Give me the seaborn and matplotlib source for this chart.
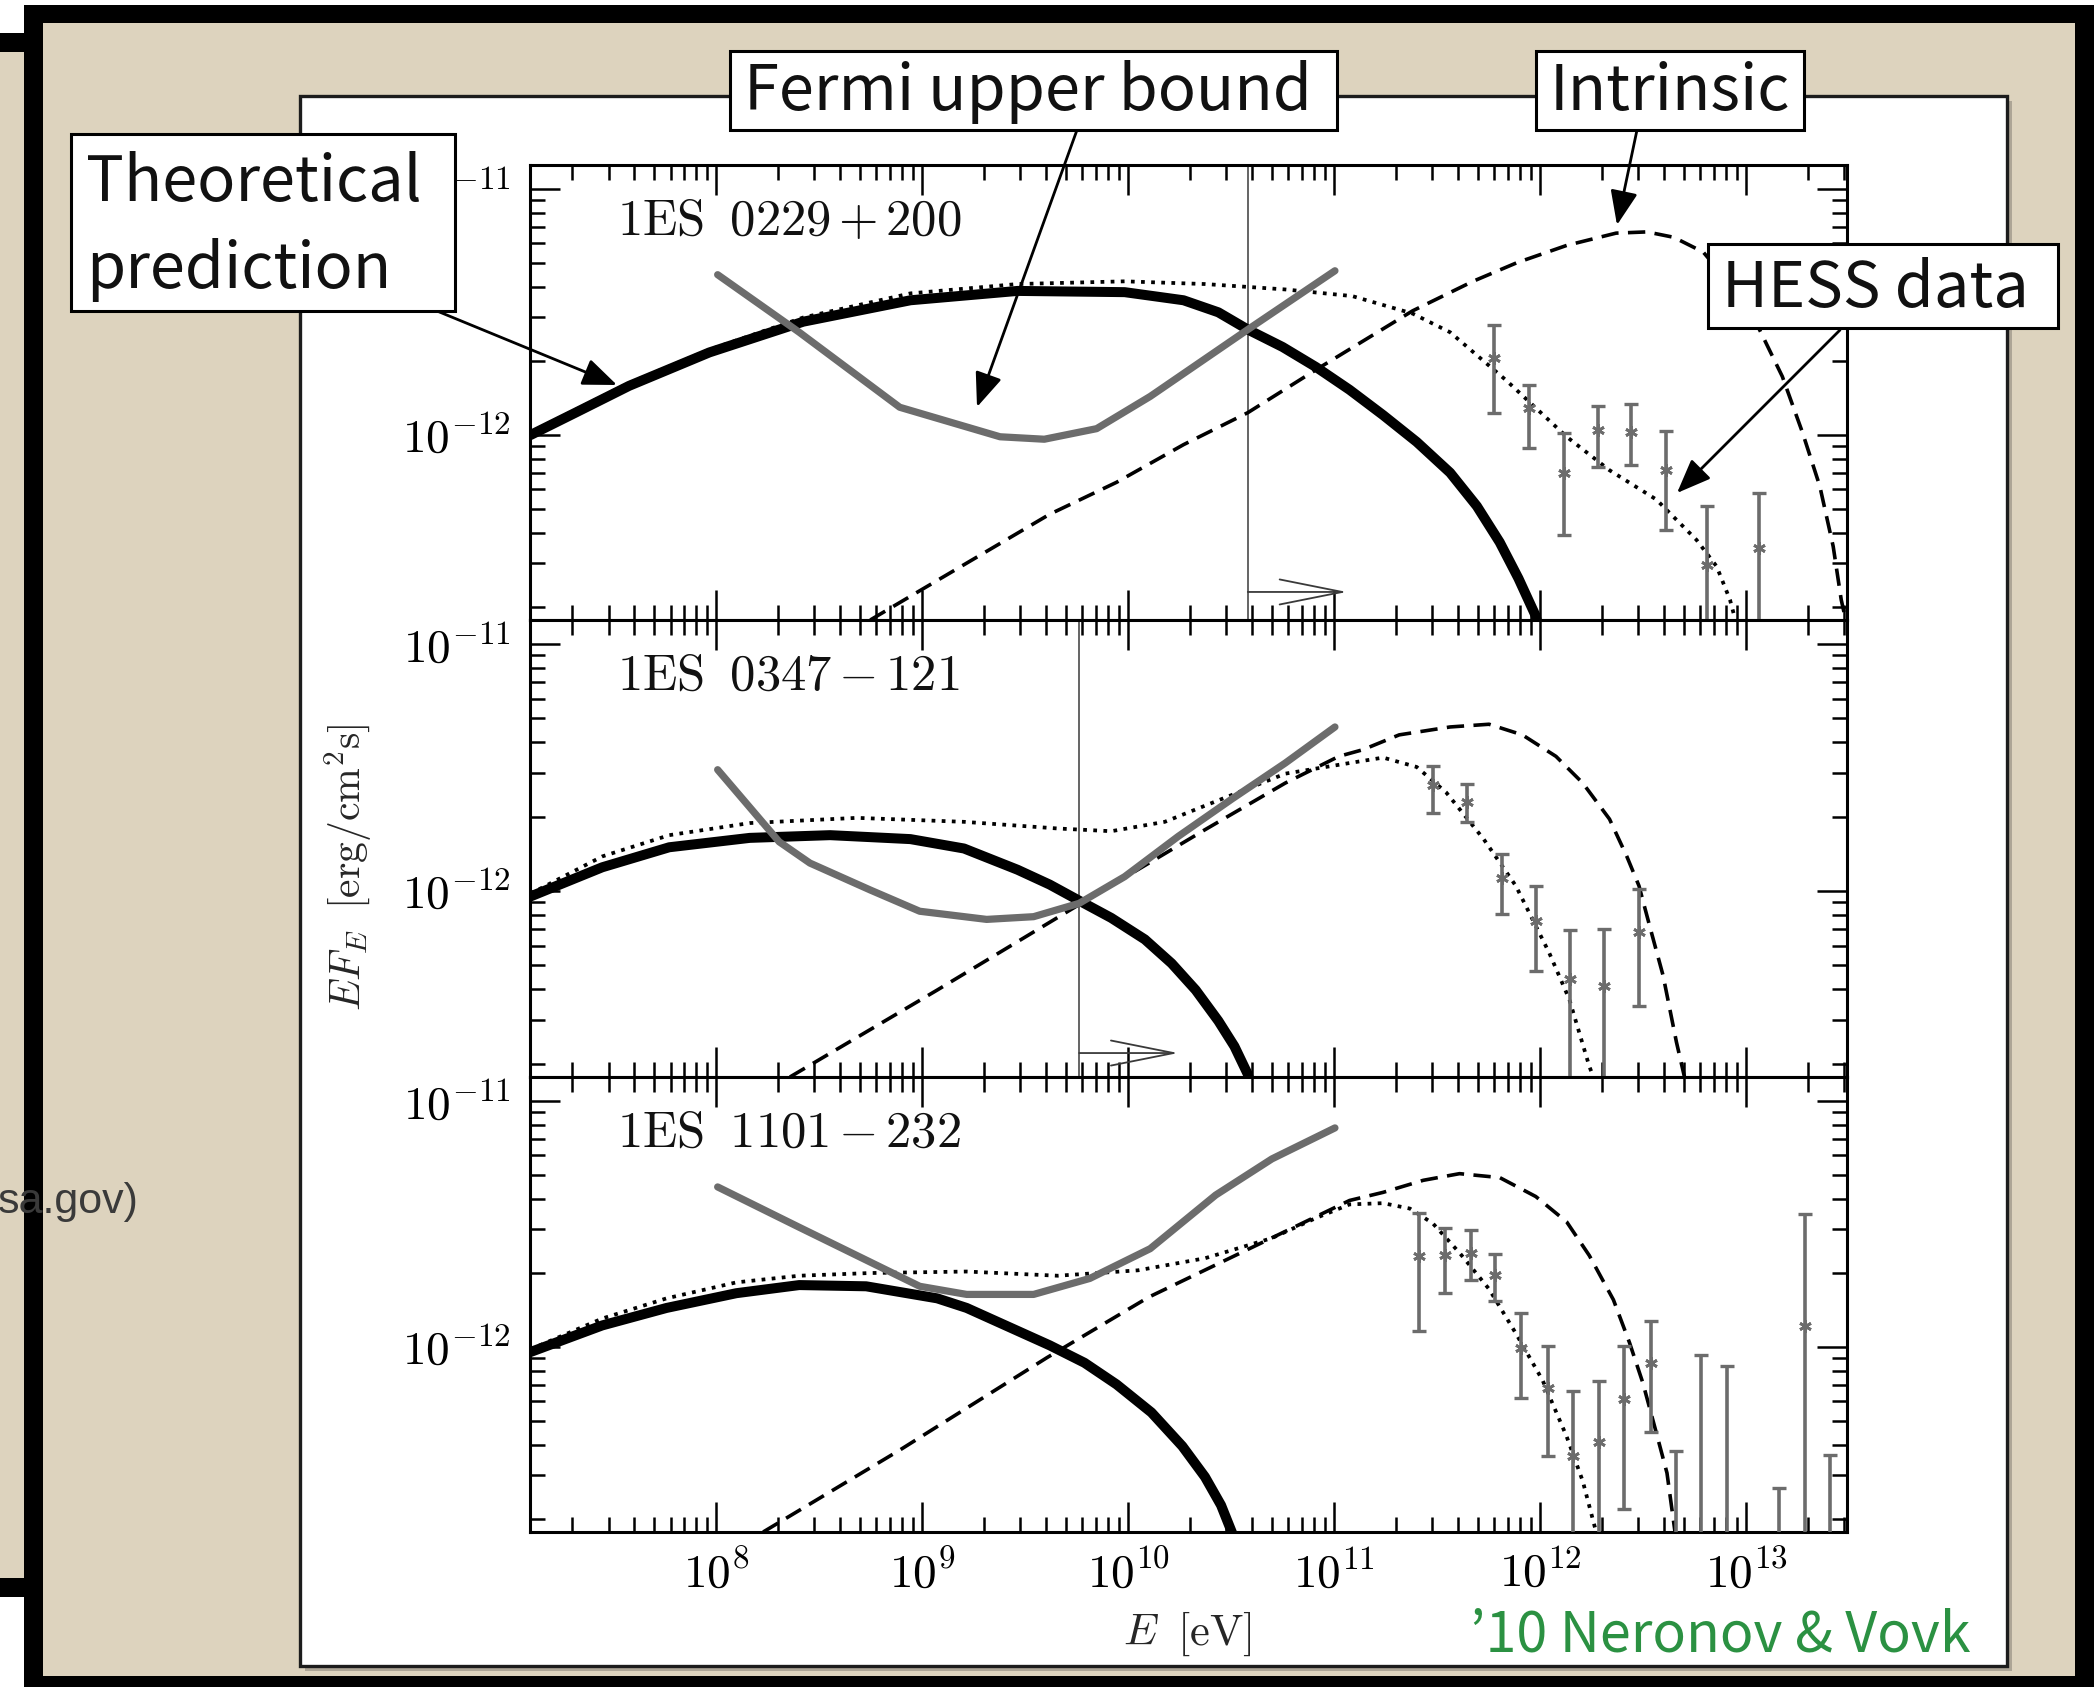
import numpy as np
import matplotlib
matplotlib.use("Agg")
import matplotlib.pyplot as plt
import seaborn as sns
from matplotlib.patches import Rectangle, FancyArrowPatch
from matplotlib.ticker import LogLocator, NullFormatter

sns.set_theme(style="ticks")
plt.rcParams["font.family"] = ["DejaVu Serif"]
plt.rcParams["mathtext.fontset"] = "cm"

# ---------------------------------------------------------------------------
# Spectra, stored as log10(E / eV) and log10(E F_E / erg cm^-2 s^-1)
# ---------------------------------------------------------------------------
# 1ES 0229+200
cascade1_logE = [7.096, 7.317, 7.577, 7.967, 8.423, 8.943, 9.463, 9.983, 10.269, 10.438, 10.581,
                 10.750, 10.913, 11.075, 11.238, 11.401, 11.563, 11.693, 11.804, 11.895, 11.979,
                 12.01]
cascade1_logF = [-12.002, -11.910, -11.801, -11.665, -11.540, -11.453, -11.415, -11.420, -11.453,
                 -11.502, -11.572, -11.643, -11.725, -11.817, -11.920, -12.029, -12.154, -12.290,
                 -12.437, -12.584, -12.737, -12.85]
total1_logE = [7.096, 7.577, 7.967, 8.423, 8.943, 9.463, 9.983, 10.373, 10.763, 11.088, 11.381,
               11.563, 11.836, 12.129, 12.337, 12.564, 12.759, 12.857, 12.922, 12.948]
total1_logF = [-11.991, -11.790, -11.654, -11.523, -11.425, -11.387, -11.376, -11.387, -11.409,
               -11.436, -11.507, -11.583, -11.779, -12.008, -12.144, -12.263, -12.427, -12.535,
               -12.671, -12.753]
intr1_logE = [8.748, 8.956, 9.619, 9.944, 10.269, 10.581, 10.913, 11.381, 11.674, 11.888, 12.129,
              12.369, 12.519, 12.649, 12.792, 12.922, 13.065, 13.176, 13.274, 13.358, 13.423,
              13.462, 13.494]
intr1_logF = [-12.753, -12.650, -12.323, -12.193, -12.040, -11.910, -11.735, -11.496, -11.376,
              -11.300, -11.230, -11.180, -11.175, -11.197, -11.257, -11.387, -11.572, -11.763,
              -11.991, -12.209, -12.454, -12.671, -12.791]
fermi1_logE = [8.007, 8.403, 8.891, 9.378, 9.593, 9.847, 10.107, 10.581, 11.004]
fermi1_logF = [-11.349, -11.583, -11.888, -12.008, -12.018, -11.975, -11.844, -11.572, -11.333]
hess1_logE = [11.776, 11.945, 12.114, 12.281, 12.443, 12.613, 12.810, 13.062]
hess1_logF = [-11.689, -11.893, -12.157, -11.980, -11.987, -12.144, -12.529, -12.461]
hess1_hi = [-11.554, -11.798, -11.994, -11.883, -11.875, -11.984, -12.289, -12.238]
hess1_lo = [-11.913, -12.055, -12.407, -12.129, -12.123, -12.389, -14.0, -14.0]
emin1_logE = 10.581
emin1_arrow = (11.062, -12.639)

# 1ES 0347-121
cascade2_logE = [7.096, 7.447, 7.772, 8.163, 8.553, 8.943, 9.203, 9.463, 9.619, 9.762, 9.918,
                 10.081, 10.211, 10.328, 10.438, 10.516, 10.581, 10.60]
cascade2_logF = [-12.023, -11.904, -11.823, -11.785, -11.774, -11.790, -11.828, -11.914, -11.974,
                 -12.039, -12.109, -12.196, -12.293, -12.401, -12.526, -12.629, -12.742, -12.80]
total2_logE = [7.096, 7.447, 7.772, 8.163, 8.683, 9.203, 9.658, 9.918, 10.178, 10.438, 10.763,
               11.075, 11.238, 11.401, 11.544, 11.726, 11.882, 12.044, 12.142, 12.239, 12.259]
total2_logF = [-12.012, -11.860, -11.774, -11.725, -11.704, -11.720, -11.747, -11.758, -11.720,
               -11.633, -11.525, -11.482, -11.460, -11.498, -11.601, -11.790, -11.979, -12.250,
               -12.439, -12.710, -12.753]
intr2_logE = [8.358, 9.073, 9.762, 10.373, 10.763, 11.023, 11.140, 11.316, 11.563, 11.752, 11.914,
              12.077, 12.207, 12.337, 12.421, 12.480, 12.532, 12.597, 12.662, 12.701, 12.72]
intr2_logF = [-12.753, -12.401, -12.055, -11.752, -11.563, -11.455, -11.428, -11.368, -11.336,
              -11.325, -11.368, -11.455, -11.563, -11.709, -11.860, -11.979, -12.142, -12.342,
              -12.612, -12.753, -12.85]
fermi2_logE = [8.007, 8.306, 8.455, 8.748, 8.988, 9.313, 9.541, 9.762, 9.983, 10.243, 10.503,
               10.763, 11.004]
fermi2_logF = [-11.509, -11.801, -11.887, -11.996, -12.082, -12.115, -12.104, -12.050, -11.942,
               -11.779, -11.628, -11.482, -11.336]
hess2_logE = [11.480, 11.645, 11.815, 11.982, 12.143, 12.308, 12.480]
hess2_logF = [-11.569, -11.640, -11.946, -12.121, -12.356, -12.383, -12.168]
hess2_hi = [-11.493, -11.566, -11.852, -11.979, -12.158, -12.152, -11.990]
hess2_lo = [-11.684, -11.721, -12.094, -12.323, -14.0, -14.0, -12.464]
emin2_logE = 9.762
emin2_arrow = (10.243, -12.656)

# 1ES 1101-232
cascade3_logE = [7.096, 7.447, 7.759, 8.098, 8.403, 8.728, 9.073, 9.216, 9.619, 9.788, 9.944,
                 10.113, 10.263, 10.373, 10.451, 10.503, 10.53]
cascade3_logF = [-12.022, -11.913, -11.842, -11.782, -11.749, -11.754, -11.803, -11.842, -11.994,
                 -12.065, -12.153, -12.267, -12.404, -12.529, -12.644, -12.753, -12.85]
total3_logE = [7.096, 7.447, 7.759, 8.098, 8.403, 8.748, 9.216, 9.658, 10.048, 10.373, 10.698,
               10.913, 11.075, 11.238, 11.368, 11.479, 11.609, 11.752, 11.882, 12.012, 12.129,
               12.207, 12.272]
total3_logF = [-12.011, -11.885, -11.803, -11.738, -11.711, -11.700, -11.694, -11.711, -11.689,
               -11.640, -11.558, -11.476, -11.421, -11.416, -11.438, -11.498, -11.618, -11.765,
               -11.945, -12.136, -12.365, -12.546, -12.753]
intr3_logE = [8.228, 8.891, 9.606, 10.100, 10.425, 10.750, 11.075, 11.238, 11.433, 11.609, 11.804,
              11.979, 12.129, 12.239, 12.356, 12.434, 12.499, 12.564, 12.616, 12.655, 12.67]
intr3_logF = [-12.753, -12.420, -12.044, -11.798, -11.667, -11.536, -11.405, -11.372, -11.323,
              -11.296, -11.312, -11.389, -11.492, -11.629, -11.809, -11.983, -12.147, -12.349,
              -12.513, -12.753, -12.85]
fermi3_logE = [8.007, 8.403, 8.988, 9.216, 9.541, 9.814, 10.107, 10.425, 10.698, 11.004]
fermi3_logF = [-11.350, -11.514, -11.754, -11.787, -11.787, -11.722, -11.601, -11.383, -11.236,
               -11.110]
hess3_logE = [11.410, 11.536, 11.666, 11.783, 11.909, 12.038, 12.160, 12.285, 12.406, 12.536, 13.284]
hess3_logF = [-11.630, -11.628, -11.617, -11.709, -12.004, -12.167, -12.445, -12.388, -12.214,
              -12.065, -11.916]
hess3_hi = [-11.454, -11.515, -11.525, -11.623, -11.864, -11.997, -12.181, -12.140, -11.997,
            -11.895, -11.461]
hess3_lo = [-11.936, -11.783, -11.730, -11.814, -12.207, -12.442, -14.0, -14.0, -12.660,
            -12.347, -14.0]
ul3_logE = [12.661, 12.783, 12.909, 13.159, 13.406]
ul3_top = [-12.422, -12.035, -12.078, -12.574, -12.439]

source_names = [r"$\mathrm{1ES\;\;0229\,{+}\,200}$", r"$\mathrm{1ES\;\;0347\,{-}\,121}$",
                r"$\mathrm{1ES\;\;1101\,{-}\,232}$"]

panels = [
    dict(cascade=(cascade1_logE, cascade1_logF), total=(total1_logE, total1_logF),
         intr=(intr1_logE, intr1_logF), fermi=(fermi1_logE, fermi1_logF),
         hess=(hess1_logE, hess1_logF, hess1_lo, hess1_hi), ul=None,
         emin=emin1_logE, arrow=emin1_arrow),
    dict(cascade=(cascade2_logE, cascade2_logF), total=(total2_logE, total2_logF),
         intr=(intr2_logE, intr2_logF), fermi=(fermi2_logE, fermi2_logF),
         hess=(hess2_logE, hess2_logF, hess2_lo, hess2_hi), ul=None,
         emin=emin2_logE, arrow=emin2_arrow),
    dict(cascade=(cascade3_logE, cascade3_logF), total=(total3_logE, total3_logF),
         intr=(intr3_logE, intr3_logF), fermi=(fermi3_logE, fermi3_logF),
         hess=(hess3_logE, hess3_logF, hess3_lo, hess3_hi), ul=(ul3_logE, ul3_top),
         emin=None, arrow=None),
]

XLIM = (10 ** 7.096, 10 ** 13.49)
YLIM = (10 ** -12.753, 10 ** -10.903)

# ---------------------------------------------------------------------------
W, H, DPI = 2100, 1687, 100
fig = plt.figure(figsize=(W / DPI, H / DPI), dpi=DPI)
fig.patch.set_facecolor("white")

BEIGE = "#ddd3be"
SANS = ["Noto Sans CJK JP", "DejaVu Sans"]


def fbox(x0, y0, x1, y1, **kw):
    r = Rectangle((x0 / W, 1 - y1 / H), (x1 - x0) / W, (y1 - y0) / H,
                  transform=fig.transFigure, **kw)
    fig.add_artist(r)
    return r


def ftext(x, y, s, **kw):
    return fig.text(x / W, 1 - y / H, s, **kw)


# slide backdrop
fbox(0, 52, 24, 1578, fc=BEIGE, lw=0, zorder=-30)
fbox(0, 33, 24, 52, fc="black", lw=0, zorder=-29)
fbox(0, 1578, 24, 1597, fc="black", lw=0, zorder=-29)
fbox(24, 5, 2094, 1687, fc="black", lw=0, zorder=-27)
fbox(43, 23, 2075, 1676, fc=BEIGE, lw=0, zorder=-26)
ftext(-2, 1213, "sa.gov)", fontsize=31, color="#3a3a3a", family=["Liberation Sans"],
      va="baseline", zorder=-25.5)
fbox(305, 101, 2012, 1671, fc="#8d877c", lw=0, alpha=0.6, zorder=-25)
fbox(300, 96, 2007, 1666, fc="white", ec="#1c1c1c", lw=2.4, zorder=-24)

# ---------------------------------------------------------------------------
AX_L, AX_R = 530, 1847
AX_Y = [(165, 620), (620, 1077), (1077, 1532)]

GRAY = "#6c6c6c"
for i, (p, (y0, y1)) in enumerate(zip(panels, AX_Y)):
    ax = fig.add_axes([AX_L / W, 1 - y1 / H, (AX_R - AX_L) / W, (y1 - y0) / H])
    ax.set_facecolor("white")
    ax.set_xscale("log")
    ax.set_yscale("log")

    def curve(data, **kw):
        x = 10 ** np.asarray(data[0])
        y = 10 ** np.asarray(data[1])
        sns.lineplot(x=x, y=y, ax=ax, sort=False, estimator=None, legend=False, **kw)

    curve(p["total"], color="black", lw=2.7, linestyle=(0, (1.0, 1.7)), zorder=2)
    curve(p["intr"], color="black", lw=2.6, linestyle=(0, (4.8, 2.6)), zorder=2)
    curve(p["cascade"], color="black", lw=7.2, solid_capstyle="butt",
          solid_joinstyle="round", zorder=3)
    curve(p["fermi"], color=GRAY, lw=5.2, solid_joinstyle="round", zorder=4)

    e, f, lo, hi = (np.asarray(a) for a in p["hess"])
    yc = 10 ** f
    ax.errorbar(10 ** e, yc, yerr=[yc - 10 ** lo, 10 ** hi - yc], fmt="none",
                ecolor=GRAY, elinewidth=2.6, capsize=5, capthick=2.4, zorder=5)
    ax.plot(10 ** e, yc, linestyle="none", marker=(6, 2, 0), markersize=9,
            markeredgewidth=2.0, color=GRAY, zorder=6)
    if p["ul"] is not None:
        ue, ut = (np.asarray(a) for a in p["ul"])
        base = np.full_like(ue, 1e-14)
        ax.errorbar(10 ** ue, base, yerr=[np.zeros_like(ue), 10 ** ut - base], fmt="none",
                    ecolor=GRAY, elinewidth=2.6, capsize=5, capthick=2.4, zorder=5)

    if p["emin"] is not None:
        ax.axvline(10 ** p["emin"], color="#4a4a4a", lw=1.2, zorder=1)
        ax.annotate("", xy=(10 ** p["arrow"][0], 10 ** p["arrow"][1]),
                    xytext=(10 ** p["emin"], 10 ** p["arrow"][1]),
                    arrowprops=dict(arrowstyle="->,head_length=1.1,head_width=0.22",
                                    mutation_scale=41, lw=1.3, color="#3a3a3a",
                                    shrinkA=0, shrinkB=0), zorder=1)

    ax.set_xlim(*XLIM)
    ax.set_ylim(*YLIM)
    ax.xaxis.set_major_locator(LogLocator(base=10, numticks=20))
    ax.xaxis.set_minor_locator(LogLocator(base=10, subs=np.arange(2, 10) * 1.0, numticks=20))
    ax.yaxis.set_major_locator(LogLocator(base=10, numticks=20))
    ax.yaxis.set_minor_locator(LogLocator(base=10, subs=np.arange(2, 10) * 1.0, numticks=20))
    ax.xaxis.set_minor_formatter(NullFormatter())
    ax.yaxis.set_minor_formatter(NullFormatter())
    ax.set_yticks([1e-12, 1e-11])
    ax.set_yticklabels([r"$10^{-12}$", r"$10^{-11}$"])
    if i == 2:
        ax.set_xticks([1e8, 1e9, 1e10, 1e11, 1e12, 1e13])
        ax.set_xticklabels([r"$10^{%d}$" % k for k in range(8, 14)])
    else:
        ax.tick_params(labelbottom=False)
    ax.set_xlim(*XLIM)
    ax.set_ylim(*YLIM)
    ax.tick_params(which="both", direction="in", top=True, right=True, width=1.8,
                   color="black", labelsize=34, labelcolor="black")
    ax.tick_params(which="major", length=21.6)
    ax.tick_params(which="minor", length=10.8)
    ax.tick_params(axis="y", pad=14)
    ax.tick_params(axis="x", pad=14)
    for s in ax.spines.values():
        s.set_linewidth(2.2)
        s.set_color("black")
    ax.set_xlabel("")
    ax.set_ylabel("")
    ax.text(0.066, 0.877, source_names[i], transform=ax.transAxes, fontsize=36.5,
            va="center", ha="left", color="#111111")

# axis titles
ftext(348, 867, r"$EF_E\;\;\mathrm{[erg/cm^2s]}$", rotation=90, ha="center", va="center",
      fontsize=30)
ftext(1187, 1634, r"$E\;\;\mathrm{[eV]}$", ha="center", va="center", fontsize=32)

# ---------------------------------------------------------------------------
# callout boxes
for (x0, y0, x1, y1) in [(71, 134, 455, 311), (730, 51, 1337, 130), (1536, 51, 1804, 130),
                         (1708, 244, 2058, 328)]:
    fbox(x0, y0, x1, y1, fc="white", ec="black", lw=2.2, zorder=5)

tkw = dict(fontsize=45.5, family=SANS, color="#111111", va="baseline", ha="left", zorder=6)
ftext(86, 201, "Theoretical", **tkw)
ftext(86, 288, "prediction", **tkw)
ftext(744, 110, "Fermi upper bound", **tkw)
ftext(1550, 110, "Intrinsic", **tkw)
ftext(1722, 307, "HESS data", **tkw)

for (xa, ya), (xb, yb) in [((437, 311), (617, 385)), ((1077, 130), (977, 407)),
                           ((1637, 130), (1617, 225)), ((1840, 330), (1677, 493))]:
    arr = FancyArrowPatch((xa / W, 1 - ya / H), (xb / W, 1 - yb / H),
                          transform=fig.transFigure,
                          arrowstyle="-|>,head_length=0.7,head_width=0.28",
                          mutation_scale=30, lw=2.0, color="black",
                          shrinkA=0, shrinkB=0, zorder=4)
    fig.add_artist(arr)

ftext(1470, 1651, "\u201910 Neronov & Vovk", fontsize=40, family=SANS, color="#2b9142",
      va="baseline", ha="left", zorder=6)

fig.savefig("out.png", dpi=DPI, facecolor=fig.get_facecolor())
